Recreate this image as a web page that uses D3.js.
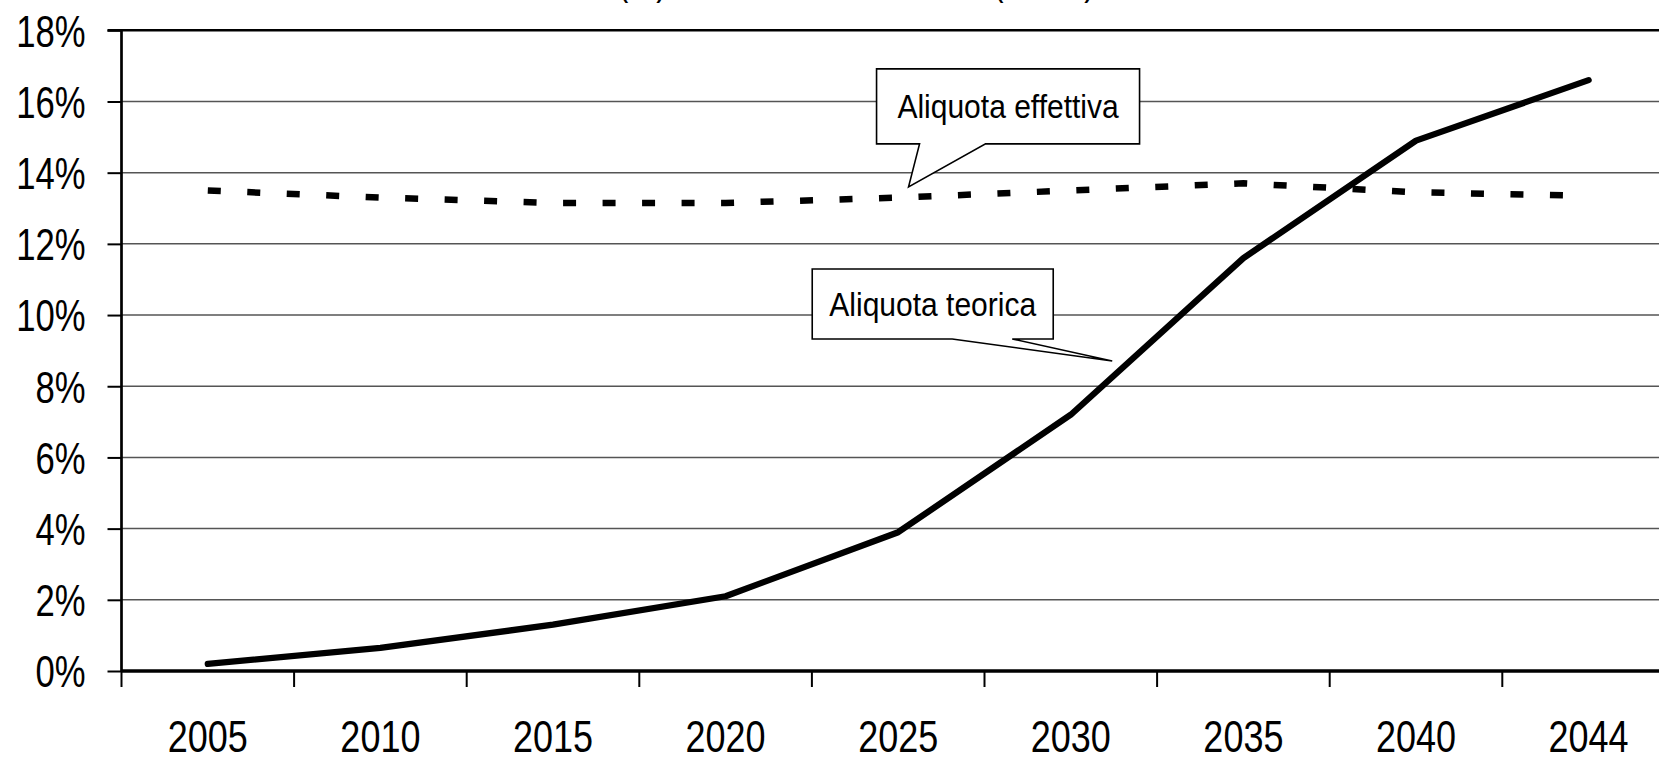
<!DOCTYPE html>
<html>
<head>
<meta charset="utf-8">
<script src="https://cdn.jsdelivr.net/npm/d3@7"></script>
<style>
  html, body { margin: 0; padding: 0; background: #fff; }
  svg { display: block; }
  text { font-family: "Liberation Sans", Arial, sans-serif; fill: #000; }
</style>
</head>
<body>
<svg id="chart" width="1659" height="758"></svg>
<script>
// Years on the horizontal axis
const years = ["2005", "2010", "2015", "2020", "2025", "2030", "2035", "2040", "2044"];
// Theoretical contribution rate (%)
const aliquotaTeorica = [0.2, 0.65, 1.3, 2.1, 3.9, 7.2, 11.6, 14.9, 16.6];
// Effective contribution rate (%)
const aliquotaEffettiva = [13.5, 13.3, 13.15, 13.15, 13.3, 13.5, 13.7, 13.45, 13.35];
// Vertical axis ticks (%)
const yTicks = [0, 2, 4, 6, 8, 10, 12, 14, 16, 18];

const titleText = "Livello (%) teorico ed effettivo del (FPLD)";

(function draw() {
  const svg = d3.select("#chart");
  const W = 1659;
  const plotLeft = 121.5, plotTop = 30.3, plotBottom = 671;
  const band = 172.6;

  const x = d3.scaleBand().domain(years).range([plotLeft, plotLeft + band * years.length]).padding(0);
  const y = d3.scaleLinear().domain([0, 18]).range([plotBottom, plotTop]);
  const cx = d => x(d) + x.bandwidth() / 2;

  // Horizontal grid lines
  svg.append("g")
    .selectAll("line")
    .data(yTicks.filter(v => v > 0 && v < 18))
    .join("line")
    .attr("x1", plotLeft).attr("x2", W)
    .attr("y1", d => y(d)).attr("y2", d => y(d))
    .attr("stroke", "#555").attr("stroke-width", 1.5);

  // Top border of the plot area
  svg.append("line")
    .attr("x1", plotLeft - 14).attr("x2", W)
    .attr("y1", y(18)).attr("y2", y(18))
    .attr("stroke", "#000").attr("stroke-width", 2.6);

  // Y axis
  const yAxis = svg.append("g")
    .attr("transform", `translate(${plotLeft},0)`)
    .call(d3.axisLeft(y).tickValues(yTicks).tickFormat(d => d + "%").tickSize(14).tickPadding(22));
  yAxis.select(".domain").remove();
  yAxis.selectAll(".tick line").attr("stroke", "#000").attr("stroke-width", 2);
  const sy = 0.77;
  yAxis.selectAll(".tick text")
    .attr("font-size", 45)
    .attr("font-family", "Liberation Sans, Arial, sans-serif")
    .attr("fill", "#000")
    .attr("x", -36 / sy)
    .attr("dy", "0.35em")
    .attr("transform", `scale(${sy},1)`);
  svg.append("line")
    .attr("x1", plotLeft).attr("x2", plotLeft)
    .attr("y1", plotTop).attr("y2", plotBottom)
    .attr("stroke", "#000").attr("stroke-width", 2.7);

  // X axis: ticks on category boundaries, labels at band centres
  const boundaries = years.map(d => x(d)).concat([x(years[years.length - 1]) + x.bandwidth()]);
  svg.append("g")
    .selectAll("line")
    .data(boundaries)
    .join("line")
    .attr("x1", d => d).attr("x2", d => d)
    .attr("y1", plotBottom).attr("y2", plotBottom + 16)
    .attr("stroke", "#000").attr("stroke-width", 2);
  svg.append("line")
    .attr("x1", plotLeft).attr("x2", W)
    .attr("y1", plotBottom).attr("y2", plotBottom)
    .attr("stroke", "#000").attr("stroke-width", 3.3);
  const sx = 0.8;
  svg.append("g")
    .selectAll("text")
    .data(years)
    .join("text")
    .attr("transform", d => `translate(${cx(d)},${plotBottom + 81}) scale(${sx},1)`)
    .attr("text-anchor", "middle")
    .attr("font-size", 45)
    .text(d => d);

  // Lines
  const line = d3.line()
    .x((d, i) => cx(years[i]))
    .y(d => y(d));

  svg.append("path")
    .datum(aliquotaEffettiva)
    .attr("d", line)
    .attr("fill", "none")
    .attr("stroke", "#000")
    .attr("stroke-width", 6.5)
    .attr("stroke-dasharray", "13 26.5");

  svg.append("path")
    .datum(aliquotaTeorica)
    .attr("d", line)
    .attr("fill", "none")
    .attr("stroke", "#000")
    .attr("stroke-width", 6.3)
    .attr("stroke-linejoin", "round")
    .attr("stroke-linecap", "round");

  // Callouts: tip anchored in data space (category index, value), box offset from tip
  const pos = (idx, v) => [plotLeft + (idx + 0.5) * band, y(v)];
  const callouts = [
    { label: "Aliquota effettiva", tip: pos(4.06, 13.6), box: [-32, -118, 263, 75], base: [11, 77] },
    { label: "Aliquota teorica", tip: pos(5.24, 8.71), box: [-300, -92, 241, 70], base: [-160, -100] }
  ];
  const cs = 0.91;
  callouts.forEach(c => {
    const [tx, ty] = c.tip;
    const bx = tx + c.box[0], by = ty + c.box[1], bw = c.box[2], bh = c.box[3];
    const b1 = tx + c.base[0], b2 = tx + c.base[1];
    const yb = by + bh;
    const p = d3.path();
    p.moveTo(bx, by);
    p.lineTo(bx + bw, by);
    p.lineTo(bx + bw, yb);
    p.lineTo(Math.max(b1, b2), yb);
    p.lineTo(tx, ty);
    p.lineTo(Math.min(b1, b2), yb);
    p.lineTo(bx, yb);
    p.closePath();
    svg.append("path")
      .attr("d", p.toString())
      .attr("fill", "#fff")
      .attr("stroke", "#000")
      .attr("stroke-width", 1.6)
      .attr("stroke-linejoin", "miter");
    svg.append("text")
      .attr("transform", `translate(${bx + bw / 2},${by + bh / 2 + 12}) scale(${cs},1)`)
      .attr("text-anchor", "middle")
      .attr("font-size", 33)
      .text(c.label);
  });

  // Title (sits above the visible area; only its lower edge shows)
  const ts = 0.79, tSize = 40;
  const probe = svg.append("text").attr("font-size", tSize).text(titleText.slice(0, titleText.indexOf("(")));
  const preW = probe.node().getComputedTextLength();
  probe.remove();
  svg.append("text")
    .attr("font-size", tSize)
    .attr("transform", `translate(${609 - preW * ts},-5.5) scale(${ts},1)`)
    .text(titleText);
})();
</script>
</body>
</html>
